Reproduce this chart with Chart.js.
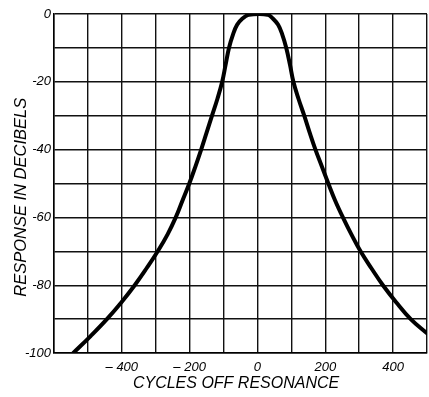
<!DOCTYPE html>
<html>
<head>
<meta charset="utf-8">
<script src="https://cdn.jsdelivr.net/npm/chart.js@4.4.1/dist/chart.umd.min.js"></script>
<style>
html,body{margin:0;padding:0;background:#fff;}
#wrap{width:429px;height:397px;}
</style>
</head>
<body>
<div id="wrap"><canvas id="c" width="429" height="397"></canvas></div>
<script>
// Data
const cyclesOff = [-543, -492, -444, -401, -362, -327, -294, -265, -241, -221, -201, -183, -166, -150, -134, -118, -104, -94, -84, -72, -60, -45, -25, 5, 30, 45, 61, 73, 85, 96, 106, 121, 138, 154, 171, 190, 209, 229, 252, 277, 304, 336, 370, 409, 452, 500];
const responseDb = [-100, -95, -90, -85, -80, -75, -70, -65, -60, -55, -50, -45, -40, -35, -30, -25, -20, -15, -10, -6, -3.2, -1.4, -0.2, 0, -0.2, -1.3, -3.2, -6, -10, -15, -20, -25, -30, -35, -40, -45, -50, -55, -60, -65, -70, -75, -80, -85, -90, -94.2];
const xTickLabels = [-400, -200, 0, 200, 400];
const yTickLabels = [0, -20, -40, -60, -80, -100];

const points = cyclesOff.map((x, i) => ({x: x, y: responseDb[i]}));
const FONT = "'Liberation Sans', 'DejaVu Sans', sans-serif";

new Chart(document.getElementById('c'), {
  type: 'scatter',
  data: {
    datasets: [{
      data: points,
      showLine: true,
      borderColor: '#000',
      borderWidth: 4,
      pointRadius: 0,
      tension: 0.4,
      borderJoinStyle: 'round',
      borderCapStyle: 'round',
      fill: false
    }]
  },
  options: {
    responsive: false,
    animation: false,
    layout: {padding: {top: 14, right: 2, left: 0, bottom: 0}},
    plugins: {legend: {display: false}, tooltip: {enabled: false}},
    scales: {
      x: {
        type: 'linear',
        min: -600, max: 500,
        afterFit: s => { s.height = 44; s.paddingRight = 0; s.paddingLeft = 0; },
        border: {display: true, color: '#000', width: 1.5},
        grid: {color: '#111', lineWidth: 1.4, drawTicks: false},
        ticks: {
          stepSize: 100, autoSkip: false, maxRotation: 0, padding: 7,
          color: '#000',
          font: {family: FONT, size: 13, style: 'italic'},
          callback: v => xTickLabels.includes(v) ? (v < 0 ? '– ' + Math.abs(v) : String(v)) : ''
        },
        title: {
          display: true, text: 'CYCLES OFF RESONANCE  ', color: '#000',
          font: {family: FONT, size: 16, style: 'italic'},
          padding: {top: 0, bottom: 4}
        }
      },
      y: {
        type: 'linear',
        min: -100, max: 0,
        afterFit: s => { s.width = 54; },
        border: {display: true, color: '#000', width: 1.5},
        grid: {color: '#111', lineWidth: 1.4, drawTicks: false},
        ticks: {
          stepSize: 10, autoSkip: false, padding: 3,
          color: '#000',
          font: {family: FONT, size: 13, style: 'italic'},
          callback: v => yTickLabels.includes(v) ? String(v) : ''
        },
        title: {
          display: true, text: 'RESPONSE IN DECIBELS      ', color: '#000',
          font: {family: FONT, size: 16.5, style: 'italic'},
          padding: {top: 12, bottom: 0}
        }
      }
    }
  }
});
</script>
</body>
</html>
